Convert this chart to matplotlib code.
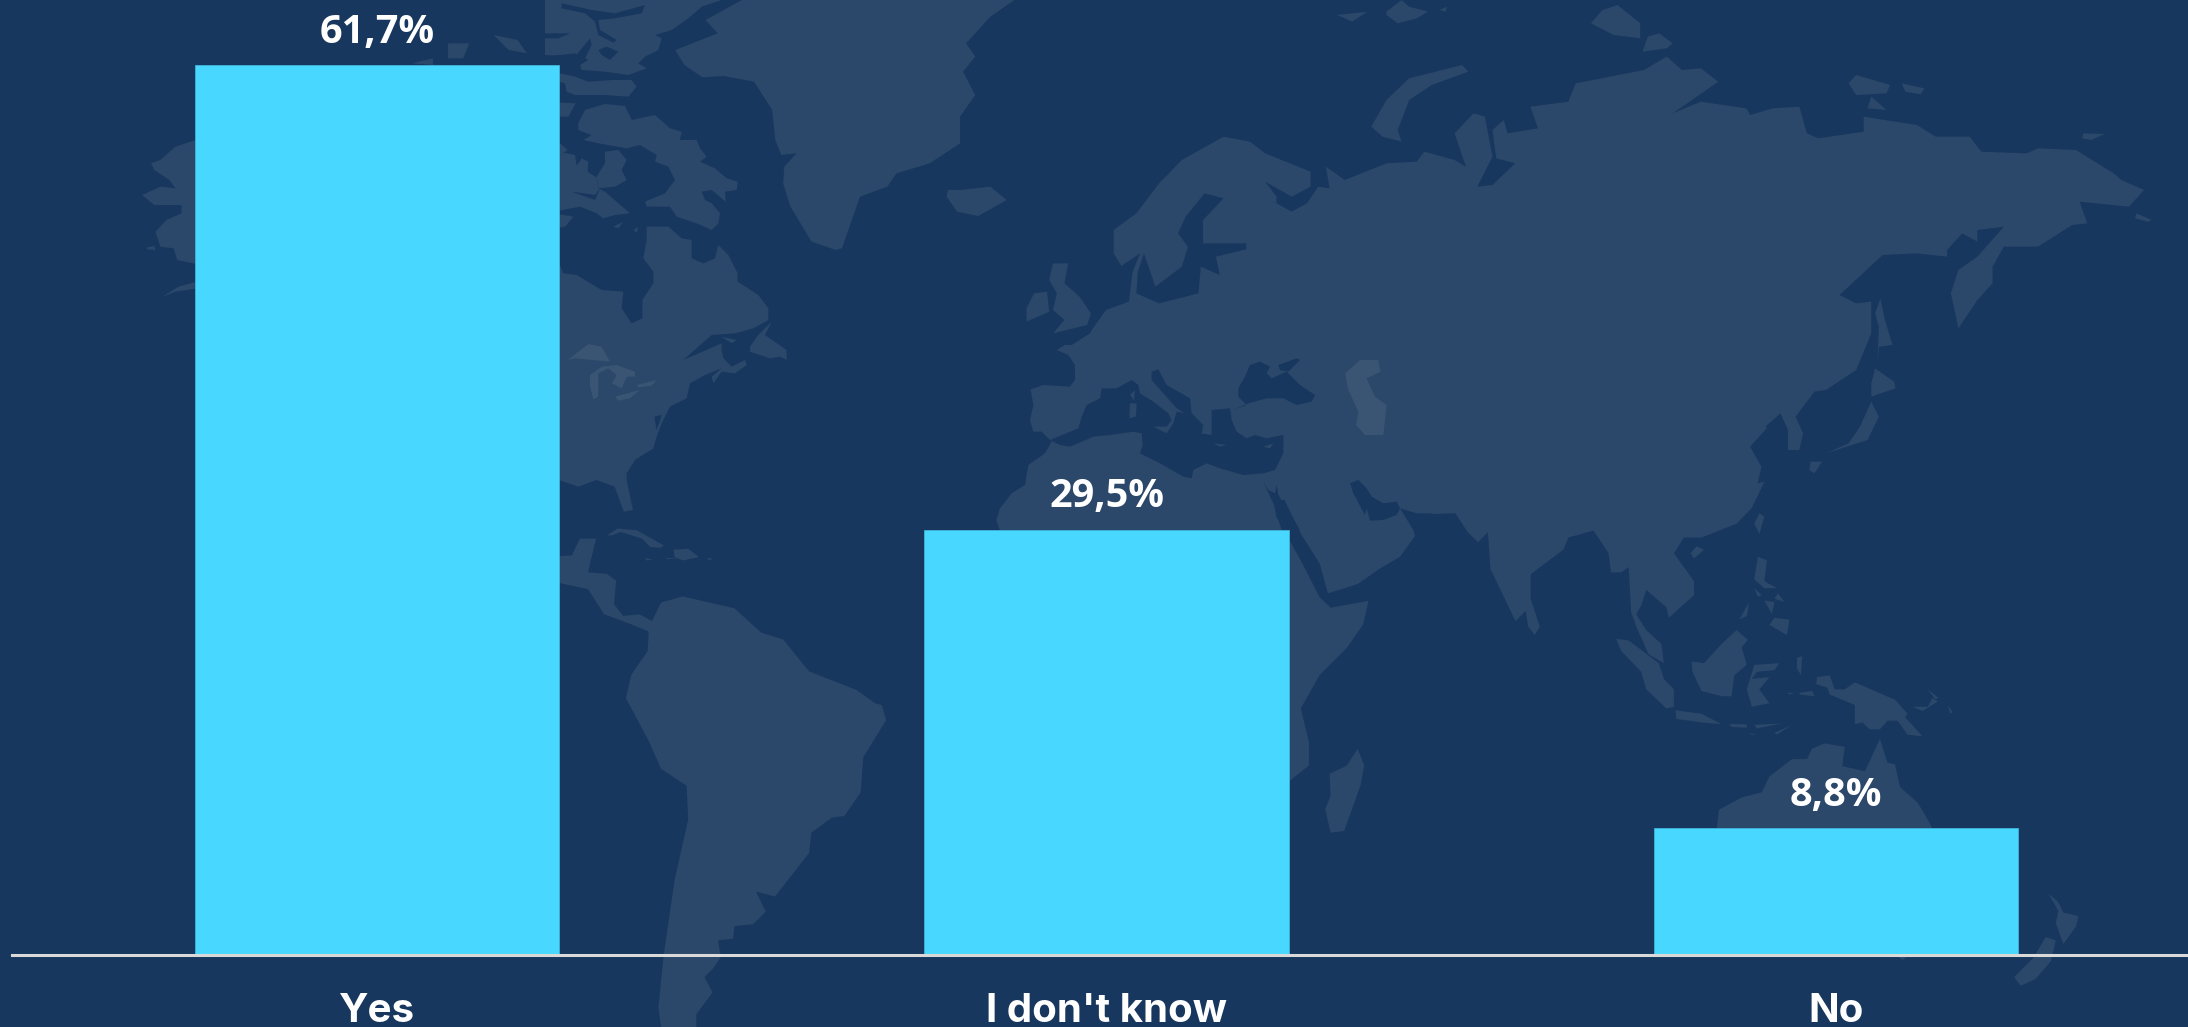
import matplotlib
matplotlib.use("Agg")
import matplotlib.pyplot as plt
from matplotlib.patches import Polygon

# chart data
categories = ["Yes", "I don't know", "No"]
shares = [61.7, 29.5, 8.8]
share_labels = ["61,7%", "29,5%", "8,8%"]

BG = "#17375E"
LAND = "#2B4769"
LAKE = "#3A5573"
BAR = "#48D8FF"
W, H = 2188, 1027


def z3(pts):
    return [(130 + x * 950 / 1568, y / 3) for x, y in pts]

def z4(pts):
    return [(1000 + x * 1188 / 1568, y / 3) for x, y in pts]

def z5(pts):
    return [(550 + x * 850 / 1568, 500 + y * 527 / 1568) for x, y in pts]

def z6(pts):
    return [(1400 + x * 788 / 1568, 480 + y * 547 / 1568) for x, y in pts]

def med(pts):
    return [(1000 + x / 3, 330 + y / 3) for x, y in pts]

def arctic(pts):
    return [(555 + x / 3, y / 3) for x, y in pts]

def lakes_crop(pts):
    return [(555 + x / 3, 240 + y / 3) for x, y in pts]


eurasia_africa = (
    z5([(1365, 835), (1200, 900), (1000, 900)])
    + z3([(1430, 1560)])
    + med([(0, 535), (35, 490), (75, 465), (85, 405), (135, 370), (155, 335), (125, 305), (100, 305), (90, 270),
           (100, 225), (92, 178), (130, 165), (210, 170), (225, 150), (225, 105), (205, 75), (170, 60), (195, 45),
           (215, 45), (270, 10), (275, 0)])
    + z4([(140, 930), (170, 905), (175, 815), (185, 760), (160, 798), (150, 760), (150, 690),
          (180, 640), (210, 550), (240, 480), (295, 410), (330, 425), (350, 460), (410, 515), (410, 560),
          (385, 590), (350, 545), (365, 590), (365, 610), (385, 635), (405, 610), (420, 560), (435, 565),
          (430, 500), (455, 540), (510, 490), (550, 485), (560, 455), (600, 480), (615, 500), (600, 400),
          (625, 340), (640, 350), (650, 470), (630, 560), (650, 555), (680, 490), (655, 475), (650, 390),
          (665, 360), (670, 400), (710, 385), (700, 320), (750, 305), (760, 250), (850, 210), (880, 170),
          (900, 210), (925, 205), (948, 245), (888, 340), (925, 305), (985, 325), (990, 345), (1020, 325),
          (1055, 320), (1065, 400), (1080, 415), (1140, 395), (1140, 350), (1210, 375), (1235, 410),
          (1280, 410), (1295, 455), (1355, 460), (1370, 445), (1420, 450), (1470, 520), (1480, 540),
          (1510, 570), (1490, 620), (1425, 605), (1435, 670), (1415, 675), (1370, 740), (1325, 740),
          (1310, 800), (1310, 850), (1290, 900), (1265, 985), (1255, 880), (1265, 810), (1290, 770),
          (1325, 680), (1290, 690), (1290, 725), (1270, 700), (1250, 750), (1250, 770), (1210, 760),
          (1165, 765), (1108, 885), (1130, 910), (1150, 905), (1150, 1000), (1130, 1110), (1090, 1170),
          (1075, 1175), (1050, 1250), (1060, 1300), (1055, 1350), (1040, 1350), (1040, 1290), (1030, 1240),
          (1005, 1290), (980, 1270), (985, 1240), (1005, 1220), (1012, 1285), (990, 1340), (1005, 1400),
          (1000, 1450)])
    + z6([(725, 5), (700, 80), (670, 125), (600, 165), (565, 165), (545, 210), (585, 290), (585, 330),
          (535, 395), (530, 365), (490, 315), (480, 360), (470, 385), (490, 430), (520, 470), (525, 525),
          (495, 500), (470, 420), (460, 380), (455, 250), (440, 265), (420, 265), (415, 210), (385, 145),
          (335, 165), (325, 200), (260, 270), (260, 340), (278, 420), (268, 445), (255, 420), (250, 375),
          (230, 405), (180, 255), (175, 150), (155, 178), (135, 150), (110, 95), (60, 98)])
    + med([(1300, 550), (1250, 550), (1200, 535), (1240, 600)])
    + z6([(30, 160), (0, 220)])
    + z5([(1530, 205), (1490, 250), (1435, 278),
          (1430, 295), (1440, 320), (1510, 300), (1500, 370), (1470, 440), (1420, 520), (1385, 620),
          (1400, 720), (1400, 790)])
)

greenland = z3([(900, 150), (970, 100), (950, 60), (1010, 0), (1460, 0), (1420, 50), (1380, 130), (1395, 170),
                (1375, 215), (1395, 285), (1370, 350), (1370, 430), (1320, 490), (1265, 520), (1250, 560),
                (1205, 590), (1175, 745), (1165, 750), (1125, 725), (1090, 620), (1078, 550), (1080, 500),
                (1100, 460), (1075, 465), (1065, 420), (1060, 330), (1030, 245), (980, 228), (945, 232), (915, 195)])

north_america = (
    lakes_crop([(-60, 75), (15, 75), (25, 100), (65, 105), (140, 150), (205, 155), (200, 205), (230, 250), (262, 235),
                (262, 180), (295, 130), (295, 95), (265, 55), (275, 0)])
    + arctic([(275, 680), (340, 680), (380, 715)])
    + lakes_crop([(410, 0), (410, 55), (445, 70), (480, 55), (490, 15), (520, 45), (548, 100), (548, 125), (610, 165),
                  (640, 205), (640, 240), (595, 265), (540, 280), (470, 285), (430, 320), (385, 360), (500, 310),
                  (500, 330), (505, 355), (530, 380), (570, 360), (575, 375), (540, 400), (500, 395), (475, 430),
                  (470, 410), (500, 385), (450, 405), (405, 430), (395, 475), (345, 500), (320, 550), (305, 590),
                  (295, 625), (240, 660), (215, 700), (215, 720)])
    + z3([(830, 1530), (815, 1535), (800, 1460), (770, 1440), (740, 1460), (708, 1440), (600, 1440)])
)

south_america = z5([(205, 305), (245, 287), (340, 322), (390, 395), (430, 415), (478, 510), (565, 565), (600, 605),
                    (612, 610), (620, 655), (578, 765), (573, 870), (543, 940), (520, 945), (482, 990), (478, 1050),
                    (415, 1180), (380, 1165), (398, 1225), (375, 1262), (340, 1268), (338, 1305), (310, 1310),
                    (315, 1360), (300, 1395), (285, 1420), (300, 1465), (270, 1530), (270, 1568), (205, 1568),
                    (200, 1510), (210, 1350), (230, 1130), (255, 950), (252, 850), (205, 800), (180, 710), (140, 590),
                    (150, 520), (180, 450), (182, 395), (173, 360), (188, 360)])

other_land = [
    # alaska, arctic canada, iceland
    z3([(108, 420), (75, 440), (50, 480), (35, 490), (40, 510), (65, 540), (75, 565), (50, 560), (20, 585), (40, 615),
        (85, 615), (85, 640), (60, 660), (42, 695), (50, 740), (72, 745), (78, 780), (130, 800), (130, 420)]),
    z3([(130, 835), (80, 860), (52, 892), (75, 875), (130, 860)]),
    z3([(28, 742), (40, 738), (42, 750), (28, 748)]),
    arctic([(-30, 0), (500, 0), (440, 20), (400, 55), (350, 90), (300, 105), (320, 115), (310, 150), (270, 170),
            (250, 190), (275, 205), (220, 225), (150, 215), (80, 210), (75, 195), (100, 180), (60, 160), (-30, 170)]),
    arctic([(-30, 210), (60, 230), (100, 245), (170, 240), (230, 240), (245, 260), (220, 290), (150, 285), (60, 285),
            (35, 275), (30, 250), (-30, 235)]),
    arctic([(-30, 305), (62, 310), (40, 350), (-30, 350)]),
    arctic([(70, 370), (90, 330), (150, 312), (210, 318), (230, 360), (300, 345), (345, 385), (380, 395), (375, 420),
            (425, 420), (435, 445), (455, 470), (435, 485), (480, 505), (515, 535), (548, 545), (545, 570), (510, 575),
            (512, 605), (470, 570), (440, 575), (450, 600), (470, 610), (495, 640), (490, 670), (470, 690), (425, 670),
            (365, 650), (345, 620), (275, 620), (270, 605), (330, 580), (360, 540), (340, 500), (300, 485), (305, 465),
            (255, 435), (215, 445), (130, 430), (85, 420), (110, 405), (70, 390)]),
    arctic([(150, 455), (190, 450), (215, 480), (200, 510), (215, 540), (180, 560), (130, 565), (125, 530), (150, 490)]),
    arctic([(-30, 430), (15, 430), (38, 450), (25, 458), (60, 465), (65, 497), (80, 475), (100, 485), (98, 515), (125, 533),
            (130, 565), (150, 575), (125, 640), (75, 620), (-30, 640)]),
    arctic([(150, 575), (225, 640), (180, 645), (145, 655), (125, 640), (135, 600)]),
    arctic([(-30, 635), (55, 650), (30, 680), (-30, 690)]),
    arctic([(175, 680), (205, 665), (190, 685)]),
    arctic([(235, 690), (250, 680), (245, 698)]),
    lakes_crop([(585, 320), (610, 285), (650, 245), (630, 285), (695, 330), (695, 360), (675, 350), (645, 355), (585, 335)]),
    z3([(1350, 570), (1370, 570), (1420, 560), (1447, 600), (1400, 648), (1365, 635), (1348, 590)]),
    z3([(600, 105), (640, 120), (655, 160), (625, 150)]),
    z3([(525, 130), (560, 130), (550, 175), (525, 175)]),
    z3([(465, 190), (500, 175), (500, 195)]),
    # caribbean, central america
    z5([(-20, 170), (40, 165), (55, 115), (85, 115), (70, 215), (105, 220), (122, 240), (118, 310), (135, 345),
        (165, 340), (188, 360), (180, 390), (150, 370), (100, 340), (70, 265), (25, 250), (-20, 230)]),
    z5([(105, 105), (125, 85), (160, 90), (210, 135), (205, 142), (185, 140), (170, 115), (130, 95), (115, 105)]),
    z5([(228, 148), (255, 145), (275, 170), (245, 180), (230, 170)]),
    z5([(175, 172), (190, 178), (178, 180)]),
    z5([(290, 172), (300, 175), (293, 180)]),
    z5([(215, 172), (235, 175), (215, 176)]),
    # uk, arctic russia, japan
    z4([(70, 790), (90, 790), (85, 850), (105, 890), (120, 940), (115, 975), (70, 1000), (85, 960), (70, 930),
        (75, 880), (65, 840)]),
    z4([(45, 880), (62, 875), (65, 935), (35, 965), (35, 925)]),
    z4([(610, 195), (618, 215), (570, 255), (540, 300), (525, 390), (530, 425), (505, 410), (490, 380), (510, 300),
        (540, 235)]),
    z4([(445, 45), (485, 35), (465, 65)]),
    z4([(510, 35), (530, 0), (540, 20), (565, 35), (550, 55), (525, 70), (510, 45)]),
    z4([(580, 30), (590, 20), (588, 35)]),
    z4([(815, 15), (845, 70), (845, 115), (810, 105), (780, 70), (795, 30)]),
    z4([(870, 100), (888, 130), (880, 145), (848, 155), (855, 110)]),
    z4([(1130, 225), (1175, 255), (1170, 280), (1130, 285), (1120, 250)]),
    z4([(1190, 250), (1220, 265), (1215, 283), (1195, 275)]),
    z4([(1150, 290), (1170, 330), (1145, 325)]),
    z4([(1430, 400), (1458, 402), (1440, 420), (1428, 415)]),
    z4([(1500, 640), (1520, 660), (1515, 665), (1498, 655)]),
    z4([(1162, 895), (1168, 960), (1178, 1035), (1160, 1040), (1158, 1090), (1160, 980), (1155, 940)]),
    z4([(1155, 1105), (1180, 1145), (1182, 1165), (1150, 1190), (1150, 1150)]),
    z4([(1150, 1205), (1160, 1250), (1145, 1320), (1090, 1360), (1070, 1380), (1120, 1330), (1135, 1280), (1145, 1230)]),
    z4([(1070, 1385), (1085, 1385), (1075, 1420), (1068, 1410)]),
    # southeast asia and oceania
    z6([(715, 95), (725, 105), (715, 155), (705, 125)]),
    z6([(590, 190), (605, 200), (585, 225), (578, 210)]),
    z6([(712, 220), (730, 230), (725, 290), (750, 310), (725, 310), (705, 285)]),
    z6([(745, 395), (775, 400), (770, 445), (735, 415)]),
    z6([(725, 345), (745, 350), (740, 385)]),
    z6([(705, 310), (720, 330), (712, 335)]),
    z6([(752, 325), (765, 350), (745, 340)]),
    z6([(695, 350), (690, 390), (675, 400)]),
    z6([(670, 430), (692, 458), (680, 480), (690, 530), (665, 560), (660, 620), (640, 620), (600, 605), (582, 550),
        (580, 520), (605, 525), (640, 470)]),
    z6([(705, 530), (755, 525), (745, 545), (710, 550), (700, 570), (735, 565), (715, 600), (735, 640), (700, 650),
        (690, 600)]),
    z6([(430, 455), (455, 460), (515, 525), (525, 570), (545, 600), (545, 650), (530, 655), (490, 600), (480, 550),
        (440, 490)]),
    z6([(548, 660), (600, 670), (640, 700), (600, 695), (550, 685)]),
    z6([(655, 700), (690, 700), (690, 710), (660, 708)]),
    z6([(705, 702), (760, 698), (710, 712)]),
    z6([(780, 702), (750, 730), (745, 725)]),
    z6([(695, 725), (710, 730), (700, 730)]),
    z6([(790, 510), (800, 505), (798, 560), (790, 540)]),
    z6([(830, 565), (855, 560), (865, 600), (885, 600), (905, 580), (985, 630), (1010, 670), (1005, 680), (1040, 735),
        (1010, 730), (990, 690), (970, 690), (955, 715), (935, 715), (920, 695), (905, 700), (905, 645), (855, 615),
        (850, 595), (828, 585)]),
    z6([(1020, 650), (1050, 650), (1060, 625), (1070, 635), (1040, 662)]),
    z6([(1090, 645), (1100, 665), (1095, 670)]),
    z6([(1050, 600), (1072, 625), (1065, 628)]),
    z6([(770, 610), (785, 610), (775, 615)]),
    z6([(795, 610), (820, 605), (825, 620), (795, 615)]),
    z6([(780, 800), (810, 800), (820, 770), (845, 755), (885, 765), (880, 820), (925, 835), (955, 742), (970, 810),
        (985, 815), (995, 880), (1030, 925), (1045, 960), (1060, 1000), (1200, 1350), (600, 1350), (630, 1000),
        (635, 945), (680, 910), (720, 895), (735, 850)]),
    z6([(990, 1365), (1010, 1365), (1000, 1376)]),
    z6([(1290, 1185), (1310, 1210), (1320, 1240), (1350, 1250), (1345, 1280), (1320, 1330), (1315, 1310), (1305, 1270),
        (1310, 1235)]),
    z6([(1285, 1310), (1305, 1320), (1295, 1380), (1265, 1430), (1235, 1450), (1222, 1425), (1260, 1370)]),
    z5([(1490, 740), (1502, 790), (1495, 850), (1465, 985), (1440, 990), (1430, 920), (1440, 880), (1438, 815),
        (1470, 790)]),
]

# seas and channels get painted over the land in background colour
seas = [
    med([(150, 330), (235, 295), (245, 260), (260, 225), (300, 205), (305, 175), (350, 175), (395, 150), (415, 165),
         (420, 190), (460, 215), (505, 250), (515, 270), (500, 290), (460, 290), (500, 310), (520, 280), (530, 245),
         (555, 250), (610, 285), (605, 310), (635, 315), (635, 240), (690, 235), (695, 270), (710, 305), (740, 325),
         (765, 315), (800, 325), (850, 315), (850, 370), (825, 420), (790, 430), (730, 435), (660, 415), (620, 400),
         (580, 420), (575, 445), (550, 440), (480, 400), (420, 370), (428, 345), (425, 310), (400, 305), (330, 315),
         (280, 320), (210, 350), (180, 345)]),
    med([(455, 125), (475, 118), (500, 165), (570, 205), (575, 250), (610, 285), (555, 250), (530, 235), (490, 190),
         (455, 150)]),
    med([(750, 105), (780, 95), (810, 110), (800, 130), (815, 145), (860, 125), (900, 165), (945, 195), (935, 215),
         (890, 225), (850, 205), (800, 205), (745, 220), (700, 240), (740, 225), (715, 200), (715, 175), (735, 140)]),
    med([(835, 105), (890, 85), (900, 90), (865, 125), (840, 120)]),
    med([(790, 455), (805, 480), (825, 490), (830, 465), (835, 495), (900, 600), (845, 600), (820, 520)]),
    med([(1050, 460), (1075, 450), (1100, 475), (1115, 500), (1150, 520), (1190, 515), (1200, 535), (1190, 555),
         (1150, 570), (1110, 572), (1100, 535), (1095, 555), (1060, 490)]),
    z4([(270, 580), (295, 595), (268, 660), (268, 730), (325, 730), (325, 748), (285, 770), (290, 825), (265, 800),
        (262, 880), (210, 910), (180, 880), (182, 815), (190, 760), (205, 860), (240, 800), (248, 740), (235, 700),
        (245, 650)]),
    z5([(1335, 0), (1355, 0), (1385, 100), (1420, 190), (1435, 278), (1440, 320), (1420, 290), (1385, 180), (1340, 50)]),
    z5([(1430, 290), (1510, 298), (1440, 320)]),
    arctic([(20, 10), (110, 30), (180, 40), (270, 15), (260, 40), (180, 55), (130, 60), (135, 90), (185, 120), (175, 128),
            (130, 105), (120, 65), (90, 40), (20, 25)]),
    arctic([(-30, 100), (45, 100), (10, 115), (-30, 115)]),
    arctic([(-30, 165), (60, 170), (105, 115), (110, 135), (90, 175), (60, 190), (-30, 205)]),
    arctic([(130, 150), (155, 140), (190, 155), (165, 180), (140, 165)]),
    arctic([(285, 515), (310, 495), (325, 510), (318, 530), (295, 535)]),
    arctic([(50, 575), (120, 585), (135, 565), (120, 600)]),
    lakes_crop([(298, 530), (320, 525), (305, 570)]),
]
islands_in_seas = [
    med([(390, 220), (410, 220), (408, 260), (388, 265)]),
    med([(390, 195), (405, 180), (402, 212)]),
    med([(640, 340), (680, 345), (660, 350)]),
    med([(790, 350), (820, 340), (810, 355)]),
    lakes_crop([(500, 290), (545, 300), (530, 310)]),
]

lakes = [
    lakes_crop([(38, 360), (100, 312), (140, 320), (165, 365), (110, 360), (60, 355)]),
    lakes_crop([(105, 405), (140, 380), (185, 375), (240, 395), (240, 410), (215, 410), (200, 445), (170, 430), (185, 405),
                (160, 385), (130, 400), (130, 470), (115, 478), (105, 440)]),
    lakes_crop([(180, 470), (255, 450), (225, 475), (190, 482)]),
    lakes_crop([(245, 435), (305, 420), (290, 437), (250, 442)]),
    med([(1035, 130), (1080, 90), (1135, 90), (1142, 125), (1100, 145), (1125, 200), (1160, 225), (1150, 315), (1095, 315),
         (1068, 285), (1075, 245), (1045, 180)]),
]


def draw_map(ax):
    ax.set_xlim(0, W)
    ax.set_ylim(H, 0)
    ax.axis("off")
    for shape in [eurasia_africa, greenland, north_america, south_america] + other_land:
        ax.add_patch(Polygon(shape, closed=True, fc=LAND, ec="none"))
    for shape in seas:
        ax.add_patch(Polygon(shape, closed=True, fc=BG, ec="none"))
    for shape in islands_in_seas:
        ax.add_patch(Polygon(shape, closed=True, fc=LAND, ec="none"))
    for shape in lakes:
        ax.add_patch(Polygon(shape, closed=True, fc=LAKE, ec="none"))


def draw_bars(ax):
    ax.patch.set_alpha(0)
    positions = range(len(categories))
    ax.bar(positions, shares, width=0.5, color=BAR, edgecolor="#3FB4DA", linewidth=0.6)
    ax.set_xlim(-0.5, 2.5)
    ax.set_ylim(0, 955 / 14.42)
    ax.set_yticks([])
    ax.set_xticks(list(positions))
    ax.set_xticklabels(categories, family="Inter", fontsize=29, fontweight="bold", color="white", va="baseline")
    ax.tick_params(axis="x", length=0, pad=48)
    for side in ["top", "left", "right"]:
        ax.spines[side].set_visible(False)
    ax.spines["bottom"].set_color("#D9D9D9")
    ax.spines["bottom"].set_linewidth(2.2)
    for pos, value, label in zip(positions, shares, share_labels):
        ax.annotate(label, (pos, value), xytext=(0, 16), textcoords="offset points", ha="center", va="baseline",
                    family="Open Sans", fontsize=28.5, fontweight="bold", color="white")


if __name__ == "__main__":
    fig = plt.figure(figsize=(W / 100, H / 100), dpi=100, facecolor=BG)
    draw_map(fig.add_axes([0, 0, 1, 1]))
    # right end of the bar axes runs off the canvas, same as in the reference
    draw_bars(fig.add_axes([12.25 / W, (H - 955) / H, 2188.5 / W, 955 / H]))
    fig.savefig("out.png", dpi=100, facecolor=BG)
